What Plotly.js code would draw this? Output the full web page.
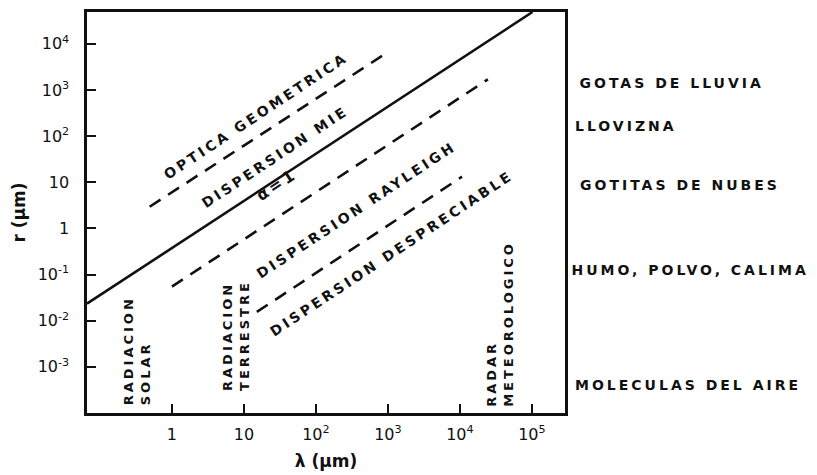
<!DOCTYPE html>
<html>
<head>
<meta charset="utf-8">
<script src="https://cdn.plot.ly/plotly-3.0.1.min.js"></script>
<style>
  body { margin: 0; background: #fff; }
  #chart { width: 817px; height: 475px; }
  .js-plotly-plot .annotation-text { letter-spacing: 3px; }
</style>
</head>
<body>
<div id="chart"></div>
<script>
// α = 1 boundary (solid) — endpoints
const lambdaAlpha1 = [0.066, 102000];
const rAlpha1 = [0.0234, 49000];
// Geometric optics / Mie boundary (dashed)
const lambdaGeo = [0.49, 977];
const rGeo = [2.95, 6460];
// Mie / Rayleigh boundary (dashed)
const lambdaRay = [1.0, 24500];
const rRay = [0.055, 1700];
// Rayleigh / negligible boundary (dashed)
const lambdaNeg = [15.1, 10700];
const rNeg = [0.0155, 13.2];

const xTickVals = [1, 10, 100, 1000, 10000, 100000];
const xTickText = ['1', '10', '10<sup>2</sup>', '10<sup>3</sup>', '10<sup>4</sup>', '10<sup>5</sup>'];
const yTickVals = [0.001, 0.01, 0.1, 1, 10, 100, 1000, 10000];
const yTickText = ['10<sup>-3</sup>', '10<sup>-2</sup>', '10<sup>-1</sup>', '1', '10', '10<sup>2</sup>', '10<sup>3</sup>', '10<sup>4</sup>'];

const regionLabels = ['OPTICA GEOMETRICA', 'DISPERSION MIE', 'α=1', 'DISPERSION RAYLEIGH', 'DISPERSION DESPRECIABLE'];
const bandLabels = ['RADIACION<br>SOLAR', 'RADIACION<br>TERRESTRE', 'RADAR<br>METEOROLOGICO'];
const particleLabels = ['GOTAS DE LLUVIA', 'LLOVIZNA', 'GOTITAS DE NUBES', 'HUMO, POLVO, CALIMA', 'MOLECULAS DEL AIRE'];

const ink = '#111';
const fam = 'DejaVu Sans, sans-serif';
const boldFont = {family: fam, size: 14, color: ink, weight: 'bold'};
const alphaFont = {family: fam, size: 16, color: ink, weight: 'bold'};
const bandFont = {family: fam, size: 13, color: ink, weight: 'bold'};

const dash = '13px,9px';
const traces = [
  {x: lambdaAlpha1, y: rAlpha1, mode: 'lines', line: {color: ink, width: 2.6}},
  {x: lambdaGeo, y: rGeo, mode: 'lines', line: {color: ink, width: 2.6, dash: dash}},
  {x: lambdaRay, y: rRay, mode: 'lines', line: {color: ink, width: 2.6, dash: dash}},
  {x: lambdaNeg, y: rNeg, mode: 'lines', line: {color: ink, width: 2.6, dash: dash}}
];

const regionPos = [[0.353, 0.740], [0.393, 0.638], [0.397, 0.569], [0.563, 0.506], [0.638, 0.399]];
const bandPos = [[0.105, 0.122], [0.312, 0.160], [0.864, 0.175]];
const particlePos = [[1.222, 0.823], [1.127, 0.716], [1.240, 0.569], [1.262, 0.357], [1.258, 0.070]];

const annotations = [];
regionLabels.forEach((t, i) => annotations.push({
  text: t, xref: 'paper', yref: 'paper', x: regionPos[i][0], y: regionPos[i][1],
  xanchor: 'center', yanchor: 'middle', showarrow: false, textangle: -33.5,
  font: t === 'α=1' ? alphaFont : boldFont
}));
bandLabels.forEach((t, i) => annotations.push({
  text: t, xref: 'paper', yref: 'paper', x: bandPos[i][0], y: bandPos[i][1],
  xanchor: 'center', yanchor: 'middle', showarrow: false, textangle: -90, align: 'left',
  font: bandFont
}));
particleLabels.forEach((t, i) => annotations.push({
  text: t, xref: 'paper', yref: 'paper', x: particlePos[i][0], y: particlePos[i][1],
  xanchor: 'center', yanchor: 'middle', showarrow: false, font: boldFont
}));

const axisCommon = {
  type: 'log', showgrid: false, zeroline: false, showline: true, linewidth: 2.6, linecolor: ink,
  mirror: true, ticks: 'inside', ticklen: 9, tickwidth: 2, tickcolor: ink,
  tickfont: {family: fam, size: 16, color: ink}
};

const layout = {
  width: 817, height: 475,
  margin: {l: 87, r: 252, t: 12, b: 62},
  paper_bgcolor: '#fff', plot_bgcolor: '#fff',
  showlegend: false,
  xaxis: Object.assign({}, axisCommon, {
    range: [-1.18, 5.46], tickvals: xTickVals, ticktext: xTickText, ticklabelstandoff: 5,
    title: {text: 'λ (μm)', font: {family: fam, size: 17, color: ink, weight: 'bold'}, standoff: 13}
  }),
  yaxis: Object.assign({}, axisCommon, {
    range: [-4.0, 4.69], tickvals: yTickVals, ticktext: yTickText, ticklabelstandoff: 12,
    title: {text: 'r (μm)', font: {family: fam, size: 17, color: ink, weight: 'bold'}, standoff: 8}
  }),
  annotations: annotations
};

Plotly.newPlot('chart', traces, layout, {displayModeBar: false, staticPlot: true});
</script>
</body>
</html>
